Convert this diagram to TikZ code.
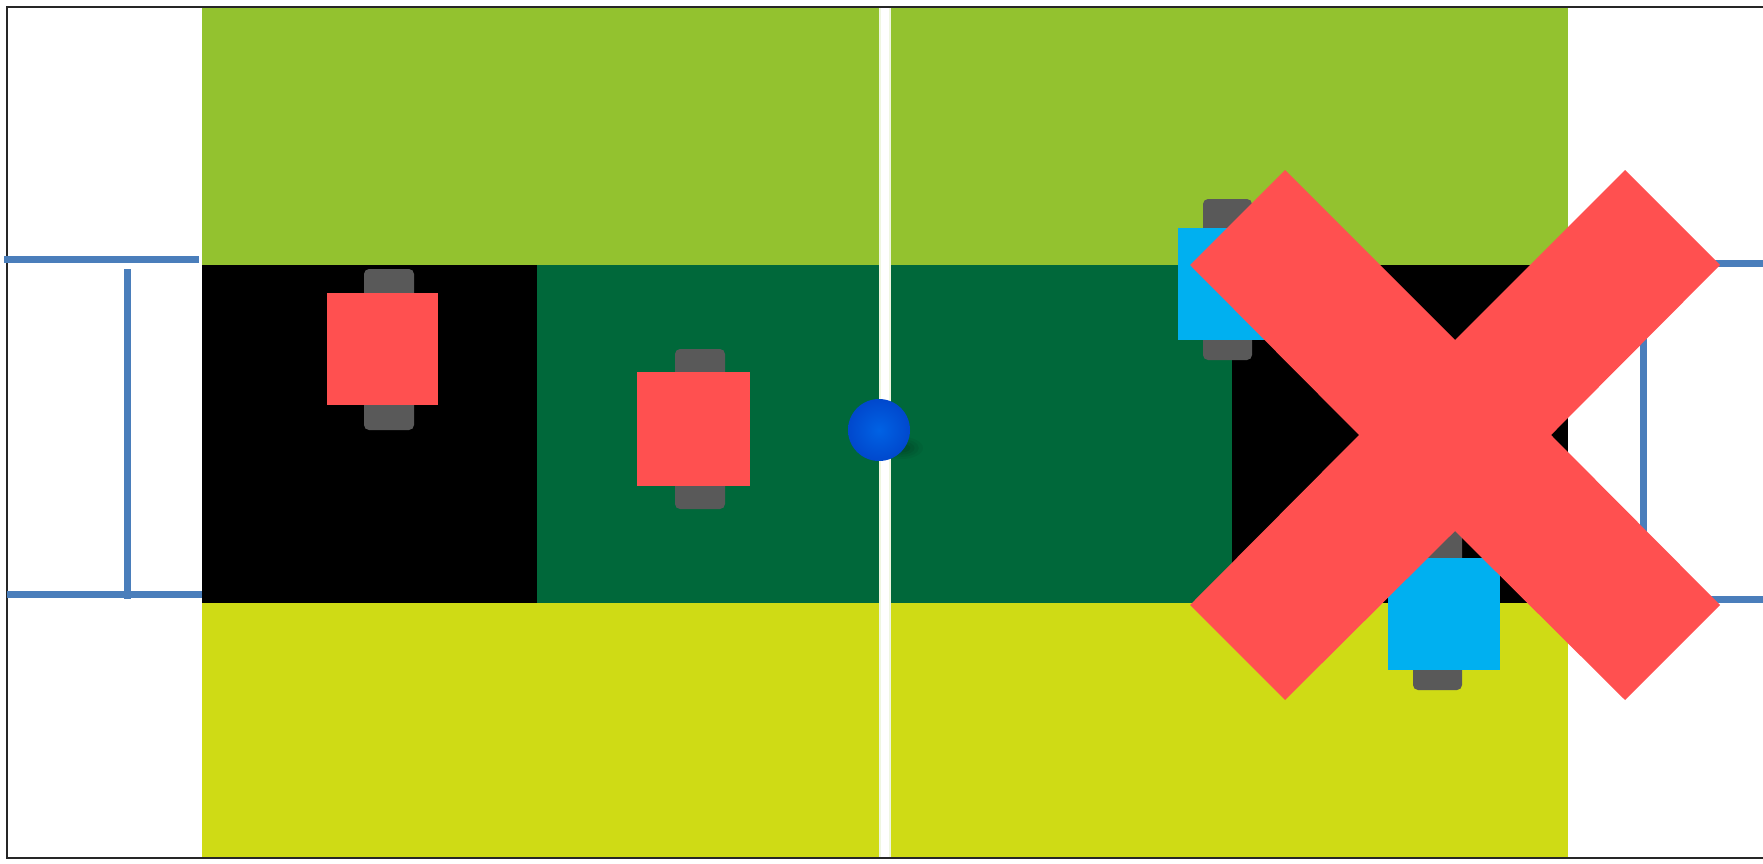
\documentclass[tikz,border=0pt]{standalone}
\definecolor{fieldtop}{RGB}{147,194,47}
\definecolor{fieldbot}{RGB}{207,219,21}
\definecolor{darkfield}{RGB}{0,104,58}
\definecolor{robred}{RGB}{255,80,80}
\definecolor{robblue}{RGB}{0,176,240}
\definecolor{wheelgray}{RGB}{89,89,89}
\definecolor{goalblue}{RGB}{74,126,187}
\definecolor{ballin}{RGB}{0,98,228}
\definecolor{ballout}{RGB}{0,72,205}
\begin{document}
\begin{tikzpicture}[x=1pt,y=-1pt,
  goalline/.style={draw=goalblue,line width=7pt},
  wheelbox/.style={fill=wheelgray,rounded corners=5pt},
  redbody/.style={fill=robred},
  bluebody/.style={fill=robblue},
  crossmark/.style={fill=robred}]
\useasboundingbox (0,0) rectangle (1763,863);
\fill[white] (0,0) rectangle (1763,863);
% field
\fill[fieldtop] (202,7) rectangle (1568,265);
\fill[fieldbot] (202,603) rectangle (1568,858);
\fill[black] (202,265) rectangle (537,603);
\fill[darkfield] (537,265) rectangle (1232,603);
\fill[black] (1232,265) rectangle (1568,603);
% center line
\fill[white!85!fieldtop] (879,7) rectangle (891,858);
\fill[white] (881,7) rectangle (889,858);
% frame
\draw[line width=1.3pt,black!85] (1763,7) -- (7,7) -- (7,858) -- (1763,858);
% left goal
\draw[goalline] (4,259) -- (199,259);
\draw[goalline] (127,269) -- (127,599);
\draw[goalline] (7,594) -- (202,594);
% right goal
\draw[goalline] (1571,263) -- (1763,263);
\draw[goalline] (1643,270) -- (1643,600);
\draw[goalline] (1568,599) -- (1763,599);
% red robots
\fill[wheelbox] (364,269) rectangle (414,430);
\fill[redbody] (327,293) rectangle (438,405);
\fill[wheelbox] (675,349) rectangle (725,509);
\fill[redbody] (637,372) rectangle (750,486);
% blue robots
\fill[wheelbox] (1203,199) rectangle (1252,360);
\fill[bluebody] (1178,228) rectangle (1290,340);
\fill[wheelbox] (1413,529) rectangle (1462,690);
\fill[bluebody] (1388,558) rectangle (1500,670);
% ball shadow
\foreach \r/\o in {20/0.04,16/0.05,12/0.06,8/0.07}{
  \fill[black,opacity=\o] (902,448) ellipse ({\r*1.05} and {\r*0.55});
}
% ball
\shade[inner color=ballin,outer color=ballout] (879,430) circle (31);
% cross
\fill[crossmark] (1285,170) -- (1455,340) -- (1625,170) -- (1720,265) -- (1551,435)
  -- (1720,605) -- (1625,700) -- (1455,531) -- (1285,700) -- (1190,605)
  -- (1359,435) -- (1190,265) -- cycle;
\end{tikzpicture}
\end{document}
